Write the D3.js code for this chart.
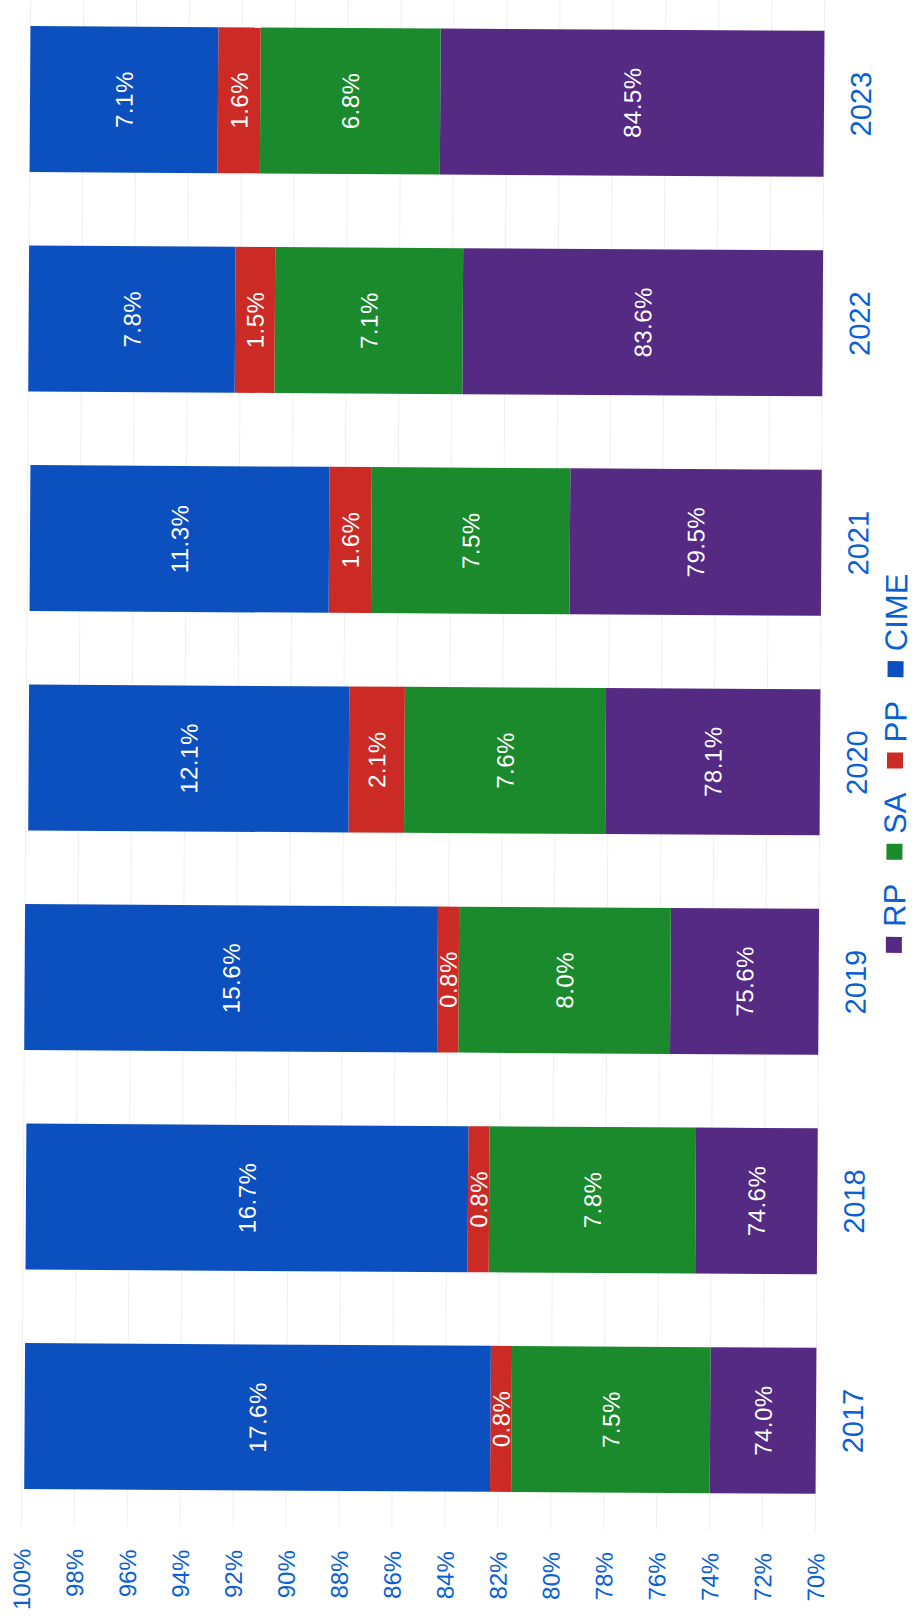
<!DOCTYPE html>
<html>
<head>
<meta charset="utf-8">
<script src="https://cdn.jsdelivr.net/npm/d3@7"></script>
<style>
  html, body { margin: 0; padding: 0; background: #ffffff; }
  svg { display: block; }
  text { font-family: "Liberation Sans", Arial, sans-serif; }
</style>
</head>
<body>
<svg id="chart" width="914" height="1621"></svg>
<script>
// Share of each category per year (percent)
const years = ["2017", "2018", "2019", "2020", "2021", "2022", "2023"];
const seriesNames = ["RP", "SA", "PP", "CIME"];
const rpValues   = [74.0, 74.6, 75.6, 78.1, 79.5, 83.6, 84.5];
const saValues   = [7.5, 7.8, 8.0, 7.6, 7.5, 7.1, 6.8];
const ppValues   = [0.8, 0.8, 0.8, 2.1, 1.6, 1.5, 1.6];
const cimeValues = [17.6, 16.7, 15.6, 12.1, 11.3, 7.8, 7.1];
const tickValues = [70, 72, 74, 76, 78, 80, 82, 84, 86, 88, 90, 92, 94, 96, 98, 100];

const colors = {
  RP: "#552a82",
  SA: "#1b8a2c",
  PP: "#cc2a25",
  CIME: "#0c4fbf"
};
const textBlue = "#0a5fd3";

const rows = years.map((year, i) => ({
  year,
  RP: rpValues[i],
  SA: saValues[i],
  PP: ppValues[i],
  CIME: cimeValues[i]
}));

const stacked = d3.stack().keys(seriesNames)(rows);

const svg = d3.select("#chart");
// page is laid out sideways: value axis runs left (100%) to right (70%)
const root = svg.append("g").attr("transform", "rotate(0.35, 420, 760)");

const x = d3.scaleLinear().domain([70, 100]).range([820, 26]);
const y = d3.scaleBand()
  .domain(years.slice().reverse())
  .range([-8.35, 1528.15])
  .paddingInner(0.335)
  .paddingOuter(0.1675);

const clampV = v => Math.max(70, Math.min(100, v));

// faint gridlines
root.append("g")
  .selectAll("line")
  .data(tickValues)
  .join("line")
  .attr("x1", d => x(d))
  .attr("x2", d => x(d))
  .attr("y1", y.range()[0])
  .attr("y2", y.range()[1])
  .attr("stroke", "#efefef")
  .attr("stroke-width", 1);

// stacked segments
const layers = root.append("g")
  .selectAll("g")
  .data(stacked)
  .join("g")
  .attr("fill", d => colors[d.key]);

const segs = d => d.map(s => ({ key: d.key, lo: s[0], hi: s[1], year: s.data.year, value: s.data[d.key] }));

layers.selectAll("rect")
  .data(segs)
  .join("rect")
  .attr("x", d => x(clampV(d.hi)))
  .attr("width", d => x(clampV(d.lo)) - x(clampV(d.hi)))
  .attr("y", d => y(d.year))
  .attr("height", y.bandwidth());

// value labels inside segments
layers.selectAll("text")
  .data(segs)
  .join("text")
  .attr("transform", d => {
    const cx = (x(clampV(d.lo)) + x(clampV(d.hi))) / 2;
    const cy = y(d.year) + y.bandwidth() / 2;
    return `translate(${cx},${cy}) rotate(-90)`;
  })
  .attr("text-anchor", "middle")
  .attr("dy", "0.36em")
  .attr("fill", "#ffffff")
  .attr("font-size", 24)
  .attr("letter-spacing", 0.5)
  .text(d => d.value.toFixed(1) + "%");

// value axis labels
const axis = root.append("g")
  .attr("transform", "translate(0,1551)")
  .call(d3.axisBottom(x).tickValues(tickValues).tickFormat(d => d + "%").tickSize(0));
axis.select(".domain").remove();
axis.selectAll("text")
  .attr("x", 0)
  .attr("y", 0)
  .attr("dy", "0.36em")
  .attr("transform", "rotate(-90)")
  .attr("text-anchor", "end")
  .attr("fill", textBlue)
  .attr("font-size", 24)
  .attr("font-family", "Liberation Sans, Arial, sans-serif");

// category labels
root.append("g")
  .selectAll("text")
  .data(years)
  .join("text")
  .attr("transform", d => `translate(867,${y(d) + y.bandwidth() / 2}) rotate(-90)`)
  .attr("text-anchor", "middle")
  .attr("fill", textBlue)
  .attr("font-size", 29)
  .text(d => d);

// legend, reading upward from RP to CIME
const legend = root.append("g").attr("transform", "translate(895,950) rotate(-90)");
const markerSize = 16;
let offset = 0;
seriesNames.forEach(name => {
  const item = legend.append("g").attr("transform", `translate(${offset},0)`);
  item.append("rect")
    .attr("x", 0)
    .attr("y", -markerSize / 2)
    .attr("width", markerSize)
    .attr("height", markerSize)
    .attr("fill", colors[name]);
  const t = item.append("text")
    .attr("x", markerSize + 10)
    .attr("y", 0)
    .attr("dy", "0.36em")
    .attr("fill", textBlue)
    .attr("font-size", 31)
    .text(name);
  offset += markerSize + 10 + t.node().getComputedTextLength() + 24;
});
</script>
</body>
</html>
